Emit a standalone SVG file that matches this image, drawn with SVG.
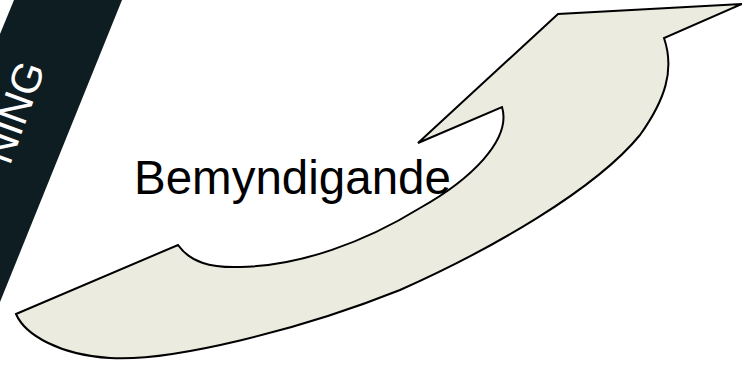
<svg xmlns="http://www.w3.org/2000/svg" width="742" height="366" viewBox="0 0 742 366">
  <style>
    .bar { fill: #0e1d21; }
    .bartext { fill: #ffffff; font-family: "Liberation Sans", Arial, sans-serif; font-size: 42px; }
    .arrow { fill: #ecebe0; stroke: #000000; stroke-width: 2; stroke-linejoin: miter; }
    .label { fill: #000000; font-family: "Liberation Sans", Arial, sans-serif; font-size: 47.5px; }
  </style>
  <g id="banner">
    <polygon class="bar" points="14,0 122,0 0,302 0,34"/>
    <text class="bartext" x="45.6" y="67.7" text-anchor="end" transform="rotate(-70 45.6 67.7)">NING</text>
  </g>
  <g id="arrow">
    <path class="arrow" d="M16,314 L178,245 C190,262 210,268 240,267 C300,266 365,242 420,208 C470,180 512,140 502,107 L418,143 L558,14 L742,4 L664,38 C675,70 665,100 640,135 C595,190 490,250 400,290 C300,330 170,362 110,358 C60,355 25,335 16,314 Z"/>
  </g>
  <g id="label">
    <text class="label" x="134" y="194">Bemyndigande</text>
  </g>
  <g id="connectors"></g>
</svg>
